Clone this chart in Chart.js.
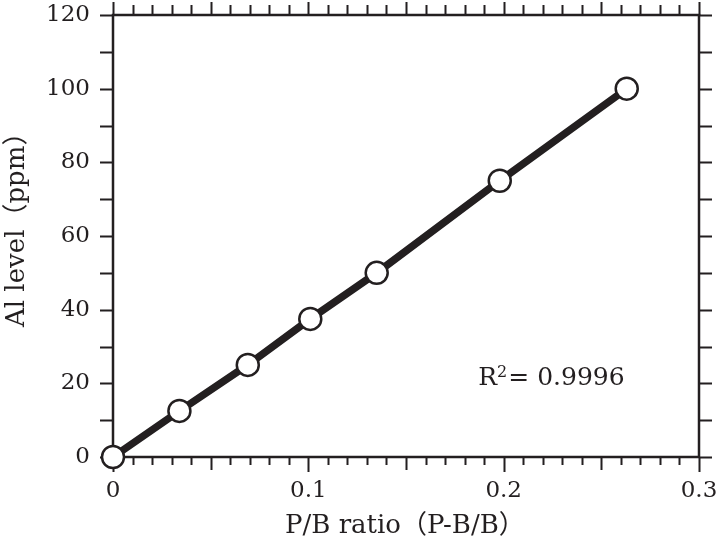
<!DOCTYPE html>
<html>
<head>
<meta charset="utf-8">
<script src="https://cdn.jsdelivr.net/npm/chart.js@4.4.1/dist/chart.umd.min.js"></script>
<style>
  html, body { margin: 0; padding: 0; background: #fff; }
  #wrap { width: 717px; height: 545px; }
</style>
</head>
<body>
<div id="wrap"><canvas id="c" width="717" height="545"></canvas></div>
<script>
// values
const ratio = [0, 0.034, 0.069, 0.101, 0.135, 0.198, 0.263];
const alLevel = [0, 12.5, 25, 37.5, 50, 75, 100];
const xTickLabels = ['0', '0.1', '0.2', '0.3'];
const yTickLabels = ['0', '20', '40', '60', '80', '100', '120'];
const xTitle = 'P/B ratio（P-B/B）';
const yTitle = 'Al level（ppm）';
const rSquared = '0.9996';

const ink = '#231f20';
const serif = "'DejaVu Serif', 'Noto Sans CJK JP', serif";

// frame + outward tick marks on all four sides, titles, R² note
const framePlugin = {
  id: 'frame',
  beforeDatasetsDraw(chart) {
    const ctx = chart.ctx;
    const a = chart.chartArea;
    const xs = chart.scales.x, ys = chart.scales.y;
    ctx.save();
    ctx.strokeStyle = ink;
    ctx.lineWidth = 2;
    ctx.beginPath();
    for (let i = 0; i <= 30; i++) {
      const px = Math.round(xs.getPixelForValue(i / 100)) + 0.5;
      let lenB = 8, lenT = 10;
      if (i % 10 === 0) { lenB = 15; lenT = 13; }
      else if (i % 5 === 0) { lenB = 13; lenT = 13; }
      ctx.moveTo(px, a.bottom); ctx.lineTo(px, a.bottom + lenB);
      ctx.moveTo(px, a.top); ctx.lineTo(px, a.top - lenT);
    }
    for (let v = 0; v <= 120; v += 10) {
      const py = Math.round(ys.getPixelForValue(v)) + 0.5;
      ctx.moveTo(a.left, py); ctx.lineTo(a.left - 13, py);
      ctx.moveTo(a.right, py); ctx.lineTo(a.right + 13, py);
    }
    ctx.stroke();
    ctx.lineWidth = 2.5;
    ctx.strokeRect(a.left, a.top, a.right - a.left, a.bottom - a.top);
    ctx.restore();
  },
  afterDraw(chart) {
    const ctx = chart.ctx;
    const xs = chart.scales.x, ys = chart.scales.y;
    ctx.save();
    ctx.fillStyle = ink;
    ctx.font = '26px ' + serif;
    ctx.textAlign = 'left';
    ctx.textBaseline = 'alphabetic';
    ctx.fillText(xTitle, 285, 533);
    ctx.translate(24, 327);
    ctx.rotate(-Math.PI / 2);
    ctx.fillText(yTitle, 0, 0);
    ctx.restore();

    ctx.save();
    ctx.fillStyle = ink;
    ctx.textBaseline = 'alphabetic';
    ctx.textAlign = 'left';
    let x = xs.getPixelForValue(0.187);
    const y = ys.getPixelForValue(19.5);
    ctx.font = '25px ' + serif;
    ctx.fillText('R', x, y);
    x += ctx.measureText('R').width;
    ctx.font = '16px ' + serif;
    ctx.fillText('2', x, y - 8);
    x += ctx.measureText('2').width + 1;
    ctx.font = '25px ' + serif;
    ctx.fillText('= ' + rSquared, x, y);
    ctx.restore();
  }
};

new Chart(document.getElementById('c'), {
  type: 'scatter',
  data: {
    datasets: [{
      data: ratio.map((r, i) => ({ x: r, y: alLevel[i] })),
      showLine: true,
      borderColor: ink,
      borderWidth: 7.5,
      pointRadius: 11,
      pointBorderWidth: 2.5,
      pointBackgroundColor: '#fff',
      pointBorderColor: ink,
      clip: false
    }]
  },
  options: {
    responsive: false,
    animation: false,
    layout: { padding: { top: 15, right: 18, left: 0, bottom: 0 } },
    plugins: { legend: { display: false }, tooltip: { enabled: false } },
    scales: {
      x: {
        type: 'linear',
        min: 0, max: 0.3,
        afterFit(scale) {
          scale.height = 88;
          scale.paddingLeft = 0;
          scale.paddingRight = 0;
        },
        afterBuildTicks(scale) {
          scale.ticks = xTickLabels.map(t => ({ value: parseFloat(t), label: t }));
        },
        grid: { display: false, drawTicks: false },
        border: { display: false },
        ticks: {
          padding: 20,
          color: ink,
          font: { family: serif, size: 23 },
          callback: (v, i) => xTickLabels[i]
        }
      },
      y: {
        type: 'linear',
        min: 0, max: 120,
        afterFit(scale) {
          scale.width = 113;
          scale.paddingTop = 0;
          scale.paddingBottom = 0;
        },
        afterBuildTicks(scale) {
          scale.ticks = yTickLabels.map(t => ({ value: parseFloat(t), label: t }));
        },
        grid: { display: false, drawTicks: false },
        border: { display: false },
        ticks: {
          padding: 23,
          color: ink,
          font: { family: serif, size: 23 },
          callback: (v, i) => yTickLabels[i]
        }
      }
    }
  },
  plugins: [framePlugin]
});
</script>
</body>
</html>
